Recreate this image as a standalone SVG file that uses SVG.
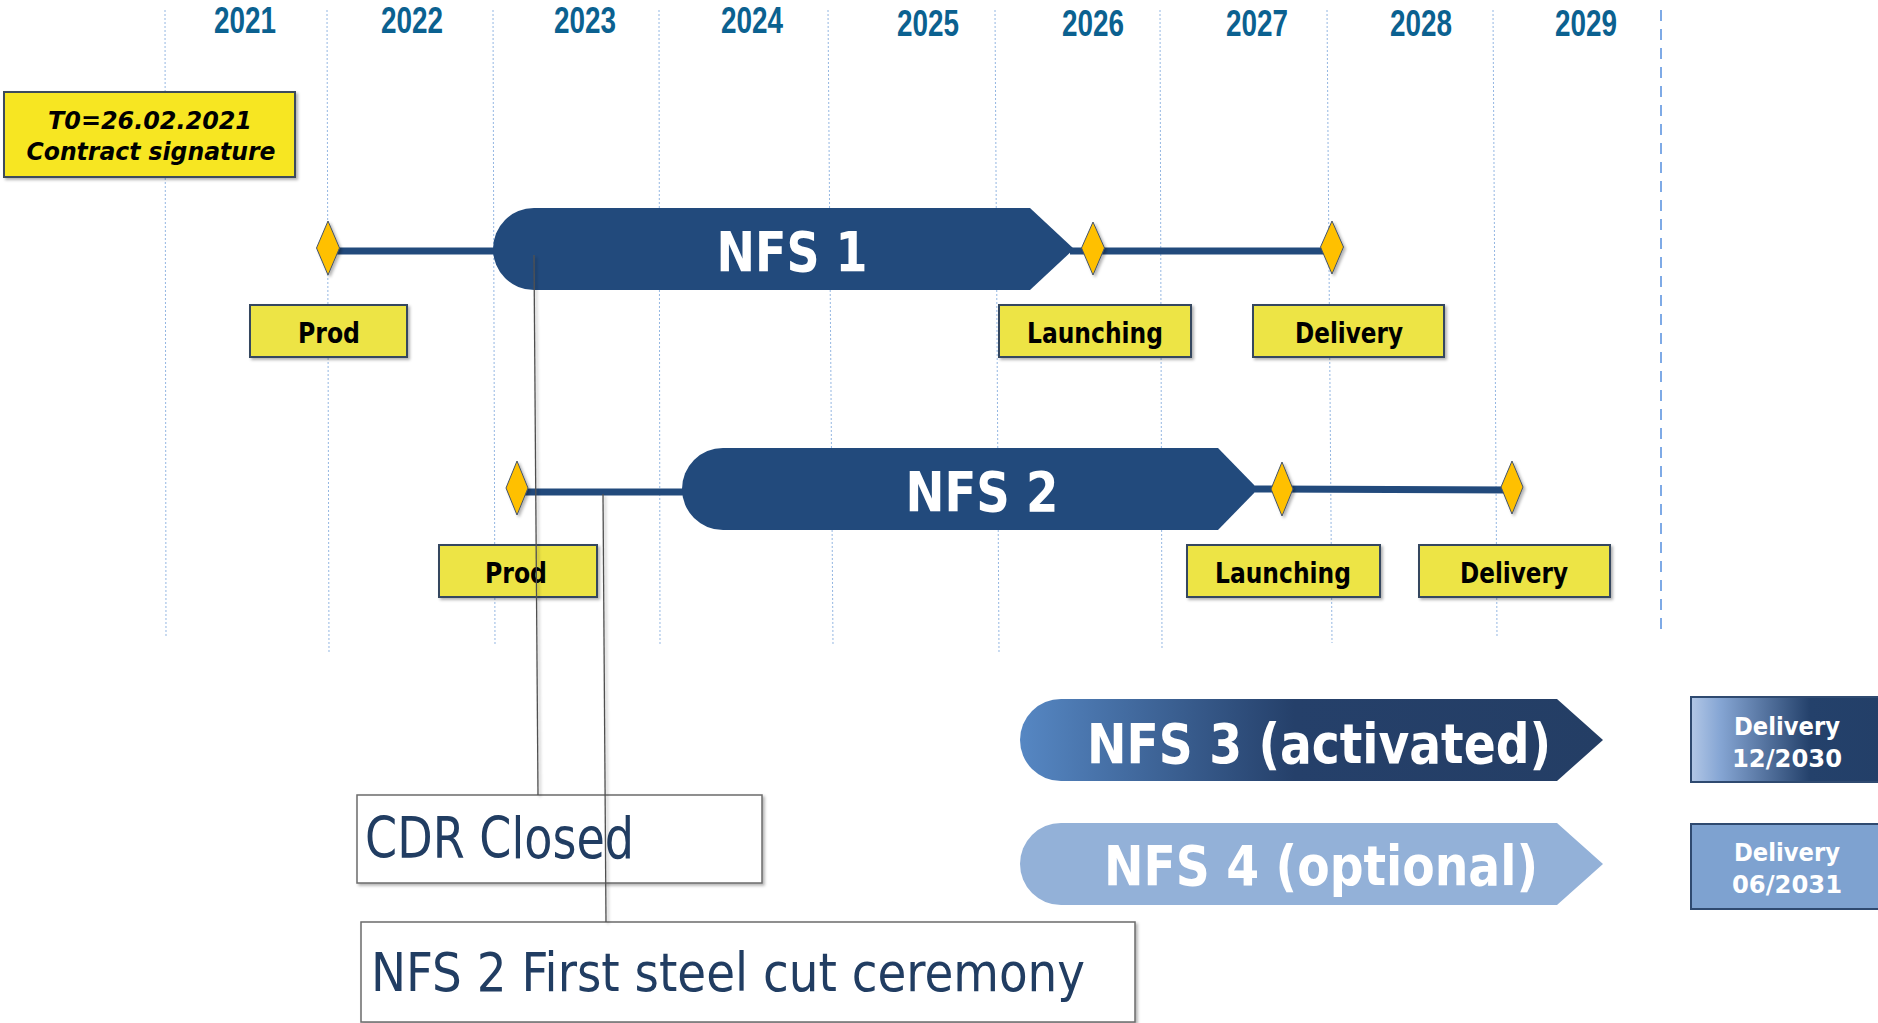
<svg xmlns="http://www.w3.org/2000/svg" width="1878" height="1023" viewBox="0 0 1878 1023">
  <style>
    .grid { stroke: #93b6e2; stroke-width: 1; stroke-dasharray: 2 2; fill: none; }
    .grid-end { stroke: #7eaae6; stroke-width: 2; stroke-dasharray: 11 8; fill: none; }
    .year { font-family: "Liberation Sans Narrow", "Liberation Sans", Arial, sans-serif; font-weight: bold; font-size: 36px; fill: #0b6190; text-anchor: middle; }
    .lbl { font-family: "DejaVu Sans Condensed", "DejaVu Sans", sans-serif; font-weight: bold; font-size: 28px; fill: #000; text-anchor: middle; }
    .lbl-box { fill: #ede445; stroke: #34475f; stroke-width: 2; }
    .ms { fill: #ffc000; stroke: #44546a; stroke-width: 1; }
    .track { stroke: #224a7c; stroke-width: 7; fill: none; }
    .bar-title { font-family: "DejaVu Sans Condensed", "DejaVu Sans", sans-serif; font-weight: bold; font-size: 55px; fill: #fff; text-anchor: middle; }
    .dlv { font-family: "DejaVu Sans Condensed", "DejaVu Sans", sans-serif; font-weight: bold; font-size: 25px; fill: #fff; text-anchor: middle; }
    .t0 { font-family: "DejaVu Sans Condensed", "DejaVu Sans", sans-serif; font-weight: bold; font-style: italic; font-size: 25px; fill: #000; text-anchor: middle; }
    .note-box { fill: #fff; stroke: #6b6b6b; stroke-width: 1.5; }
    .note { font-family: "DejaVu Sans Condensed", "DejaVu Sans", sans-serif; fill: #213d62; }
    .callout { stroke: #505050; stroke-width: 1.3; fill: none; }
  </style>
  <defs>
    <filter id="shadow" x="-20%" y="-20%" width="140%" height="140%">
      <feDropShadow dx="2" dy="2" stdDeviation="1.5" flood-color="#000" flood-opacity="0.3"/>
    </filter>
    <linearGradient id="g-nfs3" x1="1020" y1="0" x2="1603" y2="0" gradientUnits="userSpaceOnUse">
      <stop offset="0" stop-color="#5687c3"/>
      <stop offset="0.47" stop-color="#25406a"/>
      <stop offset="1" stop-color="#243e65"/>
    </linearGradient>
    <linearGradient id="g-dlv3" x1="1691" y1="0" x2="1883" y2="0" gradientUnits="userSpaceOnUse">
      <stop offset="0" stop-color="#b2c7e6"/>
      <stop offset="0.15" stop-color="#86a6d4"/>
      <stop offset="0.62" stop-color="#24416b"/>
      <stop offset="1" stop-color="#233f68"/>
    </linearGradient>
  </defs>

  <!-- year grid -->
  <g id="grid">
    <line class="grid" x1="165" y1="10" x2="166" y2="636"/>
    <line class="grid" x1="327" y1="10" x2="329" y2="652"/>
    <line class="grid" x1="493" y1="10" x2="495" y2="645"/>
    <line class="grid" x1="659" y1="10" x2="660" y2="645"/>
    <line class="grid" x1="828" y1="10" x2="833" y2="645"/>
    <line class="grid" x1="995" y1="10" x2="999" y2="652"/>
    <line class="grid" x1="1160" y1="10" x2="1162" y2="650"/>
    <line class="grid" x1="1327" y1="10" x2="1332" y2="643"/>
    <line class="grid" x1="1493" y1="10" x2="1497" y2="636"/>
    <line class="grid-end" x1="1661" y1="10" x2="1661" y2="636"/>
  </g>

  <g id="years">
    <text class="year" x="245" y="33" textLength="62" lengthAdjust="spacingAndGlyphs">2021</text>
    <text class="year" x="412" y="33" textLength="62" lengthAdjust="spacingAndGlyphs">2022</text>
    <text class="year" x="585" y="33" textLength="62" lengthAdjust="spacingAndGlyphs">2023</text>
    <text class="year" x="752" y="33" textLength="62" lengthAdjust="spacingAndGlyphs">2024</text>
    <text class="year" x="928" y="36" textLength="62" lengthAdjust="spacingAndGlyphs">2025</text>
    <text class="year" x="1093" y="36" textLength="62" lengthAdjust="spacingAndGlyphs">2026</text>
    <text class="year" x="1257" y="36" textLength="62" lengthAdjust="spacingAndGlyphs">2027</text>
    <text class="year" x="1421" y="36" textLength="62" lengthAdjust="spacingAndGlyphs">2028</text>
    <text class="year" x="1586" y="36" textLength="62" lengthAdjust="spacingAndGlyphs">2029</text>
  </g>

  <!-- contract start -->
  <g id="t0">
    <rect x="4" y="92" width="291" height="85" fill="#f7e622" stroke="#3d4b5c" stroke-width="2" filter="url(#shadow)"/>
    <text class="t0" x="150" y="129" textLength="204" lengthAdjust="spacingAndGlyphs">T0=26.02.2021</text>
    <text class="t0" x="151" y="160" textLength="249" lengthAdjust="spacingAndGlyphs">Contract signature</text>
  </g>

  <!-- schedule tracks -->
  <g id="connectors">
    <line class="track" x1="328" y1="251" x2="500" y2="251"/>
    <line class="track" x1="1070" y1="251" x2="1332" y2="251"/>
    <line class="track" x1="517" y1="492" x2="690" y2="492"/>
    <line class="track" x1="1255" y1="489" x2="1512" y2="490"/>
  </g>

  <!-- NFS 1 -->
  <g id="nfs1">
    <path d="M534,208 H1030 L1074,249 L1030,290 H534 A41,41 0 0 1 534,208 Z" fill="#224a7c"/>
    <text class="bar-title" x="792" y="271" textLength="151" lengthAdjust="spacingAndGlyphs">NFS 1</text>
  </g>
  <g id="nfs1-prod">
    <polygon class="ms" points="328,221 339.5,248 328,275 316.5,248" filter="url(#shadow)"/>
    <rect class="lbl-box" x="250" y="305" width="157" height="52" filter="url(#shadow)"/>
    <text class="lbl" x="329" y="343" textLength="62" lengthAdjust="spacingAndGlyphs">Prod</text>
  </g>
  <g id="nfs1-launching">
    <polygon class="ms" points="1093,222 1104.5,248 1093,275 1081.5,248" filter="url(#shadow)"/>
    <rect class="lbl-box" x="999" y="305" width="192" height="52" filter="url(#shadow)"/>
    <text class="lbl" x="1095" y="343" textLength="136" lengthAdjust="spacingAndGlyphs">Launching</text>
  </g>
  <g id="nfs1-delivery">
    <polygon class="ms" points="1332,221 1343.5,247 1332,274 1320.5,247" filter="url(#shadow)"/>
    <rect class="lbl-box" x="1253" y="305" width="191" height="52" filter="url(#shadow)"/>
    <text class="lbl" x="1349" y="343" textLength="108" lengthAdjust="spacingAndGlyphs">Delivery</text>
  </g>

  <!-- NFS 2 -->
  <g id="nfs2">
    <path d="M723,448 H1218 L1258,489 L1218,530 H723 A41,41 0 0 1 723,448 Z" fill="#224a7c"/>
    <text class="bar-title" x="982" y="511" textLength="153" lengthAdjust="spacingAndGlyphs">NFS 2</text>
  </g>
  <g id="nfs2-prod">
    <polygon class="ms" points="517,461 528,488 517,515 506,488" filter="url(#shadow)"/>
    <rect class="lbl-box" x="439" y="545" width="158" height="52" filter="url(#shadow)"/>
    <text class="lbl" x="516" y="583" textLength="62" lengthAdjust="spacingAndGlyphs">Prod</text>
  </g>
  <g id="nfs2-launching">
    <polygon class="ms" points="1282,462 1293,489 1282,516 1271,489" filter="url(#shadow)"/>
    <rect class="lbl-box" x="1187" y="545" width="193" height="52" filter="url(#shadow)"/>
    <text class="lbl" x="1283" y="583" textLength="136" lengthAdjust="spacingAndGlyphs">Launching</text>
  </g>
  <g id="nfs2-delivery">
    <polygon class="ms" points="1512,461 1523,487 1512,514 1501,487" filter="url(#shadow)"/>
    <rect class="lbl-box" x="1419" y="545" width="191" height="52" filter="url(#shadow)"/>
    <text class="lbl" x="1514" y="583" textLength="108" lengthAdjust="spacingAndGlyphs">Delivery</text>
  </g>

  <!-- NFS 3 / NFS 4 -->
  <g id="nfs3">
    <path d="M1061,699 H1557 L1603,740 L1557,781 H1061 A41,41 0 0 1 1061,699 Z" fill="url(#g-nfs3)"/>
    <text class="bar-title" x="1319" y="763" textLength="464" lengthAdjust="spacingAndGlyphs">NFS 3 (activated)</text>
  </g>
  <g id="nfs3-delivery">
    <rect x="1691" y="697" width="192" height="85" fill="url(#g-dlv3)" stroke="#2f4a70" stroke-width="2"/>
    <text class="dlv" x="1787" y="735" textLength="106" lengthAdjust="spacingAndGlyphs">Delivery</text>
    <text class="dlv" x="1787" y="767" textLength="110" lengthAdjust="spacingAndGlyphs">12/2030</text>
  </g>
  <g id="nfs4">
    <path d="M1061,823 H1557 L1603,864 L1557,905 H1061 A41,41 0 0 1 1061,823 Z" fill="#93b1d8"/>
    <text class="bar-title" x="1321" y="885" textLength="434" lengthAdjust="spacingAndGlyphs">NFS 4 (optional)</text>
  </g>
  <g id="nfs4-delivery">
    <rect x="1691" y="824" width="192" height="85" fill="#7ea2d0" stroke="#2f4a70" stroke-width="2"/>
    <text class="dlv" x="1787" y="861" textLength="106" lengthAdjust="spacingAndGlyphs">Delivery</text>
    <text class="dlv" x="1787" y="893" textLength="110" lengthAdjust="spacingAndGlyphs">06/2031</text>
  </g>

  <!-- event notes -->
  <g id="cdr-closed">
    <rect class="note-box" x="357" y="795" width="405" height="88" filter="url(#shadow)"/>
    <text class="note" x="365" y="858" font-size="57" textLength="269" lengthAdjust="spacingAndGlyphs">CDR Closed</text>
  </g>
  <g id="steel-cut">
    <rect class="note-box" x="361" y="922" width="774" height="100" filter="url(#shadow)"/>
    <text class="note" x="371" y="991" font-size="54" textLength="714" lengthAdjust="spacingAndGlyphs">NFS 2 First steel cut ceremony</text>
  </g>

  <!-- note callouts -->
  <g id="callouts" filter="url(#shadow)">
    <line class="callout" x1="534" y1="255" x2="538" y2="795"/>
    <line class="callout" x1="603" y1="494" x2="606" y2="922"/>
  </g>
</svg>
